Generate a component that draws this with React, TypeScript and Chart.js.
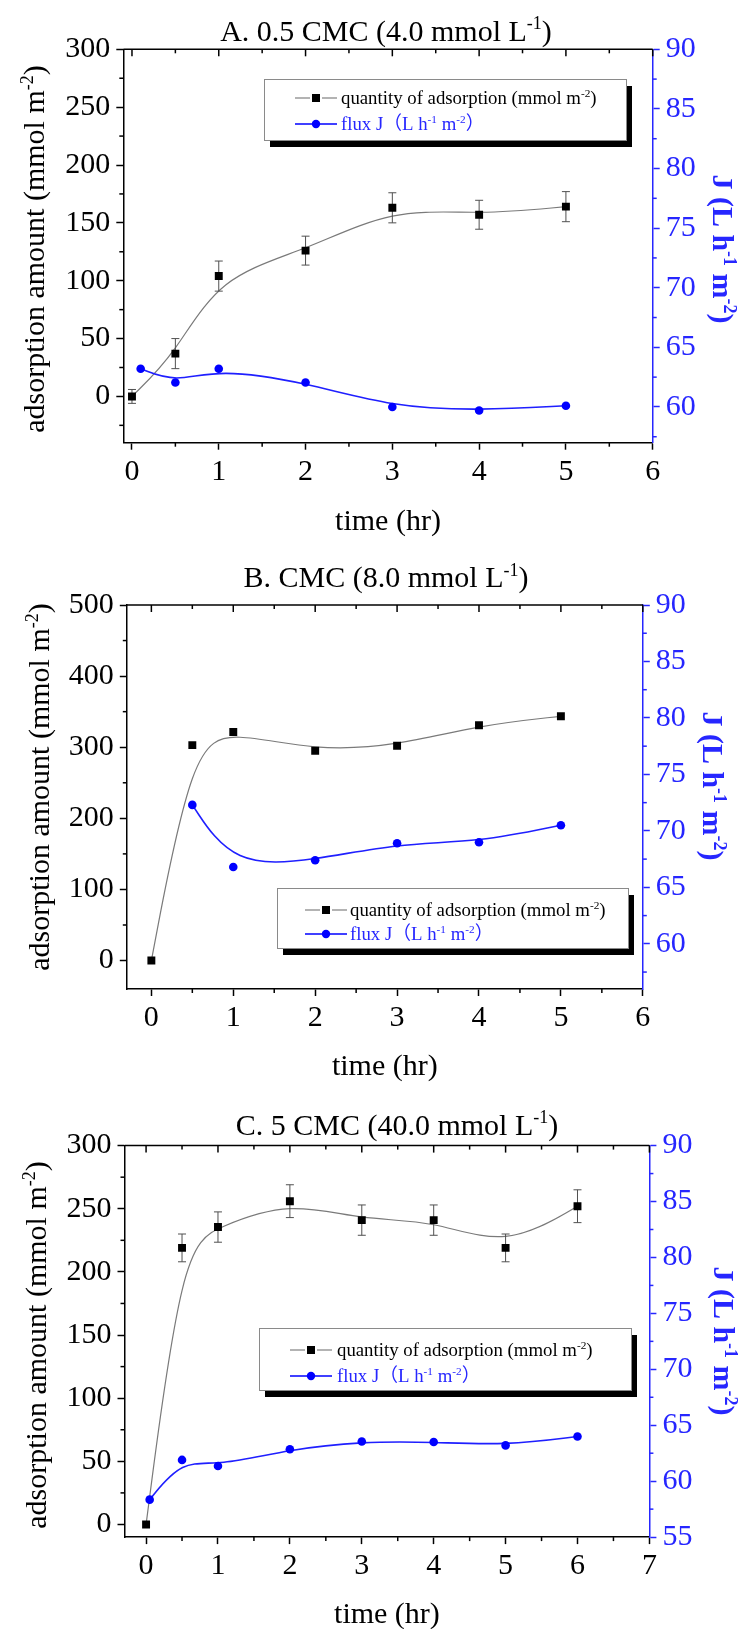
import React, { useEffect, useRef } from 'react';
import { Chart, registerables } from 'chart.js';

Chart.register(...registerables);

const SERIF = "'Liberation Serif', 'Times New Roman', 'DejaVu Serif', serif";
const LEGEND_FAMILY = "'Liberation Serif', 'Noto Sans CJK SC', serif";
const BLUE = '#0000ff';
const BLUE_AXIS = '#2626ff';

// ---------- Panel A: 0.5 CMC ----------
const timeA = [0, 0.5, 1, 2, 3, 4, 5];
const adsorptionA = [0, 37, 104, 126, 163, 157, 164];
const adsorptionErrA = [6, 13, 13, 12.5, 13, 12.5, 13];
const fluxTimeA = [0.1, 0.5, 1, 2, 3, 4, 5];
const fluxA = [63.2, 62.05, 63.2, 62.05, 60.0, 59.7, 60.1];
const xTicksA = [0, 1, 2, 3, 4, 5, 6];
const xMinorA = [0.5, 1.5, 2.5, 3.5, 4.5, 5.5];
const yTicksA = [0, 50, 100, 150, 200, 250, 300];
const yMinorA = [-25, 25, 75, 125, 175, 225, 275];
const y1TicksA = [60, 65, 70, 75, 80, 85, 90];
const y1MinorA = [57.5, 62.5, 67.5, 72.5, 77.5, 82.5, 87.5];

// ---------- Panel B: CMC ----------
const timeB = [0, 0.5, 1, 2, 3, 4, 5];
const adsorptionB = [0, 303, 321.5, 295, 302, 331, 343.5];
const adsorptionErrB: number[] = [];
const fluxTimeB = [0.5, 1, 2, 3, 4, 5];
const fluxB = [72.3, 66.8, 67.4, 68.9, 69.0, 70.5];
const xTicksB = [0, 1, 2, 3, 4, 5, 6];
const xMinorB = [-0.5, 0.5, 1.5, 2.5, 3.5, 4.5, 5.5];
const yTicksB = [0, 100, 200, 300, 400, 500];
const yMinorB = [50, 150, 250, 350, 450];
const y1TicksB = [60, 65, 70, 75, 80, 85, 90];
const y1MinorB = [57.5, 62.5, 67.5, 72.5, 77.5, 82.5, 87.5];

// ---------- Panel C: 5 CMC ----------
const timeC = [0, 0.5, 1, 2, 3, 4, 5, 6];
const adsorptionC = [0, 219, 235.5, 256, 241, 241, 219, 252];
const adsorptionErrC = [0, 11, 12, 13, 12, 12, 11, 13];
const fluxTimeC = [0.05, 0.5, 1, 2, 3, 4, 5, 6];
const fluxC = [58.35, 61.9, 61.35, 62.85, 63.55, 63.5, 63.2, 64.0];
const xTicksC = [0, 1, 2, 3, 4, 5, 6, 7];
const xMinorC = [0.5, 1.5, 2.5, 3.5, 4.5, 5.5, 6.5];
const yTicksC = [0, 50, 100, 150, 200, 250, 300];
const yMinorC = [25, 75, 125, 175, 225, 275];
const y1TicksC = [55, 60, 65, 70, 75, 80, 85, 90];
const y1MinorC = [57.5, 62.5, 67.5, 72.5, 77.5, 82.5, 87.5];

type Seg = { t: string; sup?: boolean };

const legendRow1: Seg[] = [{ t: 'quantity of adsorption (mmol m' }, { t: '-2', sup: true }, { t: ')' }];
const legendRow2: Seg[] = [{ t: 'flux J（L h' }, { t: '-1', sup: true }, { t: ' m' }, { t: '-2', sup: true }, { t: '）' }];
const leftTitle: Seg[] = [{ t: 'adsorption amount (mmol m' }, { t: '-2', sup: true }, { t: ')' }];
const rightTitle: Seg[] = [{ t: 'J (L h' }, { t: '-1', sup: true }, { t: ' m' }, { t: '-2', sup: true }, { t: ')' }];
const xTitle: Seg[] = [{ t: 'time (hr)' }];

interface Panel {
  key: string;
  top: number;
  height: number;
  plot: { l: number; r: number; t: number; b: number };
  xRange: [number, number];
  yRange: [number, number];
  y1Range: [number, number];
  xTicks: number[]; xMinor: number[];
  yTicks: number[]; yMinor: number[];
  y1Ticks: number[]; y1Minor: number[];
  time: number[]; ads: number[]; adsErr: number[];
  fluxTime: number[]; flux: number[];
  title: Seg[];
  titlePos: [number, number];
  xTitleBaseline: number;
  leftTitlePos: [number, number];
  rightTitlePos: [number, number];
  legend: { l: number; t: number; r: number; b: number; rows: [number, number]; sampleL: number; sampleR: number; textX: number };
}

const panels: Panel[] = [
  {
    key: 'A', top: 0, height: 560,
    plot: { l: 123.3, r: 652.7, t: 49.3, b: 442.7 },
    xRange: [-0.1, 6], yRange: [-40, 300], y1Range: [57, 90],
    xTicks: xTicksA, xMinor: xMinorA, yTicks: yTicksA, yMinor: yMinorA, y1Ticks: y1TicksA, y1Minor: y1MinorA,
    time: timeA, ads: adsorptionA, adsErr: adsorptionErrA, fluxTime: fluxTimeA, flux: fluxA,
    title: [{ t: 'A. 0.5 CMC (4.0 mmol L' }, { t: '-1', sup: true }, { t: ')' }],
    titlePos: [386, 40.5], xTitleBaseline: 530,
    leftTitlePos: [35, 249], rightTitlePos: [722, 249],
    legend: { l: 264, t: 79, r: 626, b: 140, rows: [98, 124], sampleL: 295, sampleR: 337, textX: 341 },
  },
  {
    key: 'B', top: 545, height: 548,
    plot: { l: 126.8, r: 642.8, t: 60, b: 444 },
    xRange: [-0.3, 6], yRange: [-40, 500], y1Range: [56, 90],
    xTicks: xTicksB, xMinor: xMinorB, yTicks: yTicksB, yMinor: yMinorB, y1Ticks: y1TicksB, y1Minor: y1MinorB,
    time: timeB, ads: adsorptionB, adsErr: adsorptionErrB, fluxTime: fluxTimeB, flux: fluxB,
    title: [{ t: 'B. CMC (8.0 mmol L' }, { t: '-1', sup: true }, { t: ')' }],
    titlePos: [386, 42], xTitleBaseline: 530,
    leftTitlePos: [40, 242], rightTitlePos: [712, 241],
    legend: { l: 277, t: 343, r: 628, b: 403, rows: [365, 389], sampleL: 305, sampleR: 347, textX: 350 },
  },
  {
    key: 'C', top: 1075, height: 554,
    plot: { l: 124.5, r: 649.4, t: 70.6, b: 462.1 },
    xRange: [-0.3, 7], yRange: [-10, 300], y1Range: [55, 90],
    xTicks: xTicksC, xMinor: xMinorC, yTicks: yTicksC, yMinor: yMinorC, y1Ticks: y1TicksC, y1Minor: y1MinorC,
    time: timeC, ads: adsorptionC, adsErr: adsorptionErrC, fluxTime: fluxTimeC, flux: fluxC,
    title: [{ t: 'C. 5 CMC (40.0 mmol L' }, { t: '-1', sup: true }, { t: ')' }],
    titlePos: [397, 59.5], xTitleBaseline: 548,
    leftTitlePos: [37, 270], rightTitlePos: [723, 266],
    legend: { l: 259, t: 253, r: 631, b: 315, rows: [275, 301], sampleL: 290, sampleR: 332, textX: 337 },
  },
];

function fontStr(size: number, weight: string, family: string) {
  return `${weight} ${size}px ${family}`;
}

function richWidth(ctx: CanvasRenderingContext2D, segs: Seg[], size: number, weight: string, family: string) {
  let w = 0;
  for (const s of segs) {
    ctx.font = fontStr(s.sup ? size * 0.6 : size, weight, family);
    w += ctx.measureText(s.t).width;
  }
  return w;
}

function drawRich(
  ctx: CanvasRenderingContext2D, segs: Seg[], x: number, y: number, size: number,
  o: { weight?: string; family?: string; color: string; align: 'left' | 'center'; rotate?: number; baselineOffset?: number }
) {
  const weight = o.weight || 'normal';
  const family = o.family || SERIF;
  ctx.save();
  ctx.translate(x, y);
  if (o.rotate) ctx.rotate(o.rotate);
  ctx.fillStyle = o.color;
  ctx.textAlign = 'left';
  ctx.textBaseline = 'alphabetic';
  const w = richWidth(ctx, segs, size, weight, family);
  let cx = o.align === 'center' ? -w / 2 : 0;
  const by = o.baselineOffset || 0;
  for (const s of segs) {
    const fs = s.sup ? size * 0.6 : size;
    ctx.font = fontStr(fs, weight, family);
    ctx.fillText(s.t, cx, by + (s.sup ? -size * 0.38 : 0));
    cx += ctx.measureText(s.t).width;
  }
  ctx.restore();
}

function drawBSpline(ctx: CanvasRenderingContext2D, pts: { x: number; y: number }[], color: string, width: number) {
  if (pts.length < 2) return;
  const first = pts[0];
  const last = pts[pts.length - 1];
  const q = [first, first, ...pts, last, last];
  ctx.save();
  ctx.strokeStyle = color;
  ctx.lineWidth = width;
  ctx.lineJoin = 'round';
  ctx.beginPath();
  ctx.moveTo(first.x, first.y);
  for (let i = 0; i + 3 < q.length; i++) {
    const B = q[i + 1], C = q[i + 2], D = q[i + 3];
    ctx.bezierCurveTo(
      (2 * B.x + C.x) / 3, (2 * B.y + C.y) / 3,
      (B.x + 2 * C.x) / 3, (B.y + 2 * C.y) / 3,
      (B.x + 4 * C.x + D.x) / 6, (B.y + 4 * C.y + D.y) / 6
    );
  }
  ctx.stroke();
  ctx.restore();
}

function line(ctx: CanvasRenderingContext2D, x1: number, y1: number, x2: number, y2: number) {
  ctx.beginPath();
  ctx.moveTo(x1, y1);
  ctx.lineTo(x2, y2);
  ctx.stroke();
}

function decorPlugin(p: Panel) {
  return {
    id: 'decor' + p.key,
    beforeDatasetsDraw(chart: any) {
      const ctx: CanvasRenderingContext2D = chart.ctx;
      chart.data.datasets.forEach((ds: any, i: number) => {
        const meta = chart.getDatasetMeta(i);
        const pts = meta.data.map((e: any) => ({ x: e.x, y: e.y }));
        drawBSpline(ctx, pts, ds.splineColor, ds.splineWidth);
      });
      // error bars
      const xs = chart.scales.x;
      const ys = chart.scales.y;
      ctx.save();
      ctx.strokeStyle = '#505050';
      ctx.lineWidth = 1;
      p.adsErr.forEach((e, i) => {
        if (!e) return;
        const px = xs.getPixelForValue(p.time[i]);
        const top = ys.getPixelForValue(p.ads[i] + e);
        const bot = ys.getPixelForValue(p.ads[i] - e);
        line(ctx, px, top, px, bot);
        line(ctx, px - 4, top, px + 4, top);
        line(ctx, px - 4, bot, px + 4, bot);
      });
      ctx.restore();
    },
    afterDraw(chart: any) {
      const ctx: CanvasRenderingContext2D = chart.ctx;
      const a = chart.chartArea;
      const xs = chart.scales.x, ys = chart.scales.y, y1 = chart.scales.y1;
      ctx.save();
      // top border with inward ticks
      ctx.strokeStyle = '#000';
      ctx.lineWidth = 1.5;
      line(ctx, a.left, a.top, a.right, a.top);
      p.xTicks.forEach((v) => {
        const px = xs.getPixelForValue(v);
        line(ctx, px, a.top, px, a.top + 7);
      });
      p.xMinor.forEach((v) => {
        if (v < p.xRange[0] || v > p.xRange[1]) return;
        const px = xs.getPixelForValue(v);
        line(ctx, px, a.top, px, a.top + 4);
        line(ctx, px, a.bottom, px, a.bottom + 4);
      });
      p.yMinor.forEach((v) => {
        if (v < p.yRange[0] || v > p.yRange[1]) return;
        const py = ys.getPixelForValue(v);
        line(ctx, a.left - 4, py, a.left, py);
      });
      ctx.strokeStyle = BLUE_AXIS;
      p.y1Minor.forEach((v) => {
        if (v < p.y1Range[0] || v > p.y1Range[1]) return;
        const py = y1.getPixelForValue(v);
        line(ctx, a.right, py, a.right + 4, py);
      });
      ctx.restore();

      // titles
      drawRich(ctx, p.title, p.titlePos[0], p.titlePos[1], 30, { color: '#000', align: 'center' });
      drawRich(ctx, xTitle, (a.left + a.right) / 2, p.xTitleBaseline, 30, { color: '#000', align: 'center' });
      drawRich(ctx, leftTitle, p.leftTitlePos[0], p.leftTitlePos[1], 30, {
        color: '#000', align: 'center', rotate: -Math.PI / 2, baselineOffset: 9,
      });
      drawRich(ctx, rightTitle, p.rightTitlePos[0], p.rightTitlePos[1], 30, {
        color: BLUE_AXIS, align: 'center', rotate: Math.PI / 2, baselineOffset: 9, weight: 'bold',
      });

      // legend
      const L = p.legend;
      const w = L.r - L.l, h = L.b - L.t;
      ctx.save();
      ctx.fillStyle = '#000';
      ctx.fillRect(L.l + 6, L.t + 7, w, h);
      ctx.fillStyle = '#fff';
      ctx.fillRect(L.l, L.t, w, h);
      ctx.strokeStyle = '#8a8a8a';
      ctx.lineWidth = 1;
      ctx.strokeRect(L.l + 0.5, L.t + 0.5, w, h);
      const mid = (L.sampleL + L.sampleR) / 2;
      ctx.strokeStyle = '#808080';
      ctx.lineWidth = 1.2;
      line(ctx, L.sampleL, L.rows[0], mid - 6, L.rows[0]);
      line(ctx, mid + 6, L.rows[0], L.sampleR, L.rows[0]);
      ctx.fillStyle = '#000';
      ctx.fillRect(mid - 4, L.rows[0] - 4, 8, 8);
      ctx.strokeStyle = BLUE;
      ctx.lineWidth = 1.6;
      line(ctx, L.sampleL, L.rows[1], L.sampleR, L.rows[1]);
      ctx.fillStyle = BLUE;
      ctx.beginPath();
      ctx.arc(mid, L.rows[1], 4.2, 0, Math.PI * 2);
      ctx.fill();
      ctx.restore();
      drawRich(ctx, legendRow1, L.textX, L.rows[0] + 6, 18.8, { color: '#000', align: 'left', family: LEGEND_FAMILY });
      drawRich(ctx, legendRow2, L.textX, L.rows[1] + 6, 18.8, { color: BLUE_AXIS, align: 'left', family: LEGEND_FAMILY });
    },
  };
}

function buildConfig(p: Panel): any {
  const W = 745;
  const tickFont = { family: SERIF, size: 30 };
  return {
    type: 'scatter',
    data: {
      datasets: [
        {
          label: 'quantity of adsorption (mmol m-2)',
          data: p.time.map((t, i) => ({ x: t, y: p.ads[i] })),
          xAxisID: 'x', yAxisID: 'y',
          showLine: false,
          pointStyle: 'rect', pointRadius: 5.6, pointHoverRadius: 5.6,
          pointBackgroundColor: '#000', pointBorderWidth: 0,
          splineColor: '#7a7a7a', splineWidth: 1.2,
        },
        {
          label: 'flux J (L h-1 m-2)',
          data: p.fluxTime.map((t, i) => ({ x: t, y: p.flux[i] })),
          xAxisID: 'x', yAxisID: 'y1',
          showLine: false,
          pointStyle: 'circle', pointRadius: 4.3, pointHoverRadius: 4.3,
          pointBackgroundColor: BLUE, pointBorderWidth: 0,
          splineColor: '#1f1fff', splineWidth: 1.6,
        },
      ],
    },
    options: {
      responsive: false,
      animation: false,
      events: [],
      layout: { padding: { top: p.plot.t, left: 0, right: 0, bottom: 0 } },
      plugins: { legend: { display: false }, tooltip: { enabled: false }, title: { display: false } },
      scales: {
        x: {
          type: 'linear', position: 'bottom',
          min: p.xRange[0], max: p.xRange[1],
          afterBuildTicks: (s: any) => { s.ticks = p.xTicks.map((v) => ({ value: v })); },
          afterFit: (s: any) => { s.height = p.height - p.plot.b; },
          ticks: { font: tickFont, color: '#000', padding: 4, maxRotation: 0, autoSkip: false, callback: (v: any) => String(v) },
          grid: { display: true, drawOnChartArea: false, drawTicks: true, tickLength: 7, tickWidth: 1.5, tickColor: '#000', color: '#000' },
          border: { display: true, color: '#000', width: 1.5 },
        },
        y: {
          type: 'linear', position: 'left',
          min: p.yRange[0], max: p.yRange[1],
          afterBuildTicks: (s: any) => { s.ticks = p.yTicks.map((v) => ({ value: v })); },
          afterFit: (s: any) => { s.width = p.plot.l; },
          ticks: { font: tickFont, color: '#000', padding: 6, autoSkip: false, callback: (v: any) => String(v) },
          grid: { display: true, drawOnChartArea: false, drawTicks: true, tickLength: 7, tickWidth: 1.5, tickColor: '#000', color: '#000' },
          border: { display: true, color: '#000', width: 1.5 },
        },
        y1: {
          type: 'linear', position: 'right',
          min: p.y1Range[0], max: p.y1Range[1],
          afterBuildTicks: (s: any) => { s.ticks = p.y1Ticks.map((v) => ({ value: v })); },
          afterFit: (s: any) => { s.width = W - p.plot.r; },
          ticks: { font: tickFont, color: BLUE_AXIS, padding: 6, autoSkip: false, callback: (v: any) => String(v) },
          grid: { display: true, drawOnChartArea: false, drawTicks: true, tickLength: 7, tickWidth: 1.5, tickColor: BLUE_AXIS, color: BLUE_AXIS },
          border: { display: true, color: BLUE_AXIS, width: 1.5 },
        },
      },
    },
    plugins: [decorPlugin(p)],
  };
}

function PanelChart({ p }: { p: Panel }) {
  const ref = useRef<HTMLCanvasElement | null>(null);
  useEffect(() => {
    if (!ref.current) return;
    const chart = new Chart(ref.current, buildConfig(p));
    return () => chart.destroy();
  }, [p]);
  return (
    <canvas
      ref={ref}
      width={745}
      height={p.height}
      style={{ display: 'block', position: 'absolute', left: 0, top: p.top, width: 745, height: p.height }}
    />
  );
}

export default function App() {
  useEffect(() => {
    document.body.style.margin = '0';
    document.body.style.background = '#fff';
  }, []);
  return (
    <div style={{ position: 'absolute', left: 0, top: 0, width: 745, height: 1629, background: '#fff', overflow: 'hidden' }}>
      {panels.map((p) => (
        <PanelChart key={p.key} p={p} />
      ))}
    </div>
  );
}
